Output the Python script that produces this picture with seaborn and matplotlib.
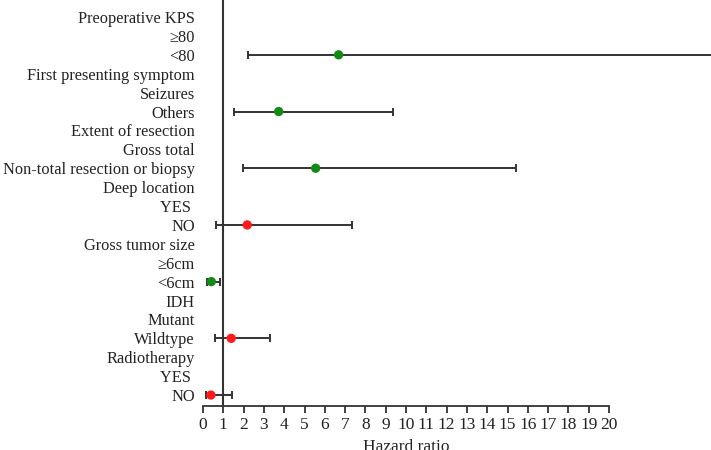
import matplotlib
matplotlib.use("Agg")
import matplotlib.pyplot as plt
import seaborn as sns
import numpy as np
import pandas as pd

# ---- data ----
row_labels = [
    "Preoperative KPS", "\u226580", "<80",
    "First presenting symptom", "Seizures", "Others",
    "Extent of resection", "Gross total", "Non-total resection or biopsy",
    "Deep location", "YES ", "NO",
    "Gross tumor size", "\u22656cm", "<6cm",
    "IDH", "Mutant", "Wildtype",
    "Radiotherapy", "YES ", "NO",
]
est_rows = [2, 5, 8, 11, 14, 17, 20]          # row index of each estimate
hr = [6.68, 3.73, 5.55, 2.18, 0.41, 1.39, 0.39]
ci_low = [2.22, 1.51, 1.99, 0.66, 0.21, 0.61, 0.13]
ci_high = [27.0, 9.36, 15.42, 7.32, 0.84, 3.32, 1.44]
significant = ["yes", "yes", "yes", "no", "yes", "no", "no"]
x_ticks = list(range(0, 21))

df = pd.DataFrame({"row": est_rows, "hr": hr, "lo": ci_low, "hi": ci_high,
                   "sig": significant})

sns.set_theme(style="white")
plt.rcParams["font.family"] = ["Liberation Serif", "DejaVu Serif"]

fig = plt.figure(figsize=(7.11, 4.5), dpi=100)
ax = fig.add_axes([203 / 711, 44 / 450, 406 / 711, 406 / 450])

dark = "#333333"
txt = "#222222"
# error bars
ax.errorbar(df["hr"], df["row"],
            xerr=[df["hr"] - df["lo"], df["hi"] - df["hr"]],
            fmt="none", ecolor=dark, elinewidth=1.4, capsize=3,
            capthick=1.4, clip_on=False, zorder=2)
# points
sns.scatterplot(data=df, x="hr", y="row", hue="sig",
                palette={"yes": "#138a13", "no": "#ff1a1a"},
                s=45, edgecolor="none", legend=False, ax=ax,
                zorder=3, clip_on=False)

# reference line at HR = 1
ax.axvline(1, color=dark, lw=1.5, zorder=1)

ax.set_xlim(0, 20)
ax.set_ylim(20.58, -0.9)
ax.set_xticks(x_ticks)
ax.set_xticklabels([str(t) for t in x_ticks], fontsize=12.5, color=txt)
ax.set_yticks(range(len(row_labels)))
ax.set_yticklabels(row_labels, fontsize=11.8, color=txt)
ax.tick_params(axis="y", length=0, pad=6)
ax.tick_params(axis="x", length=5, width=1.3, color=dark, pad=3,
               direction="out", bottom=True)
ax.set_xlabel("Hazard ratio", fontsize=12.5, color=txt, labelpad=4)
ax.set_ylabel("")

for s in ["top", "right", "left"]:
    ax.spines[s].set_visible(False)
ax.spines["bottom"].set_color(dark)
ax.spines["bottom"].set_linewidth(1.3)
ax.set_facecolor("white")
ax.grid(False)

fig.savefig("out.png", dpi=100, facecolor="white")
